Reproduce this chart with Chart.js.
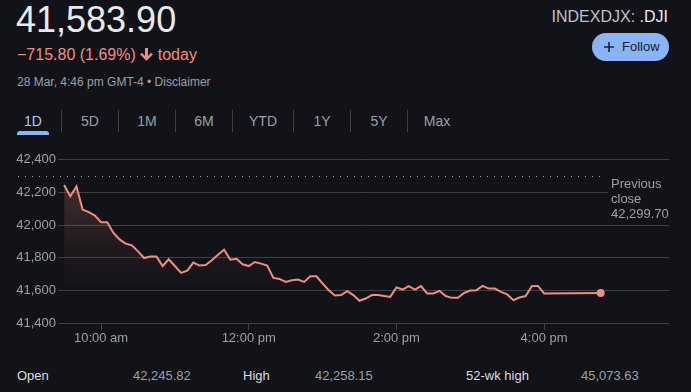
<!DOCTYPE html>
<html>
<head>
<meta charset="utf-8">
<script src="https://cdn.jsdelivr.net/npm/chart.js@4.4.1/dist/chart.umd.min.js"></script>
<style>
    html, body { margin: 0; padding: 0; background: #121318; overflow: hidden; }
    body { width: 691px; height: 392px; position: relative; font-family: "Liberation Sans", Arial, sans-serif; color: #9aa0a6; }
    .abs { position: absolute; white-space: nowrap; }
    #price { left: 16px; top: 2px; font-size: 36px; line-height: 36px; color: #e8eaed; }
    #change { left: 17px; top: 45px; font-size: 16px; line-height: 20px; color: #f28b82; }
    #change svg { vertical-align: -1px; margin: 0 5px 0 4px; }
    #stamp { left: 17px; top: 74px; font-size: 12px; line-height: 16px; color: #9aa0a6; }
    #ticker { right: 23px; top: 7px; font-size: 16px; line-height: 20px; color: #bdc1c6; }
    #ticker b { font-weight: normal; color: #e8eaed; }
    #follow { left: 592px; top: 33px; width: 77px; height: 28px; border-radius: 14px; background: #8ab4f8; color: #202124; font-size: 13px; line-height: 28px; }
    #follow svg { position: absolute; left: 12px; top: 9px; }
    #follow span { position: absolute; left: 30px; top: 0; }
    .tab { top: 112px; width: 44px; text-align: center; font-size: 14px; line-height: 18px; color: #9aa0a6; }
    .tab.on { color: #a8c7fa; }
    .sep { top: 110px; width: 1px; height: 22px; background: #3c4043; }
    #underline { left: 17px; top: 131px; width: 32px; height: 4px; border-radius: 3px 3px 0 0; background: #8ab4f8; }
    .stat { top: 368px; font-size: 13px; line-height: 16px; }
    .stat.k { color: #dadce0; }
    .stat.v { color: #9aa0a6; }
    #wrap { position: absolute; left: 0; top: 150px; width: 691px; height: 200px; }
</style>
</head>
<body>
<div class="abs" id="price">41,583.90</div>
<div class="abs" id="change">−715.80 (1.69%)<svg width="13" height="14" viewBox="0 0 13 14"><path fill="#f28b82" d="M5 1h3v8l3.2-3.2 1.6 1.6L6.5 13.7 0.2 7.4l1.6-1.6L5 9z"/></svg>today</div>
<div class="abs" id="stamp">28 Mar, 4:46 pm GMT-4 • Disclaimer</div>
<div class="abs" id="ticker">INDEXDJX: <b>.DJI</b></div>
<div class="abs" id="follow"><svg width="10" height="10" viewBox="0 0 10 10"><path fill="#202124" d="M4.2 0h1.6v4.2H10v1.6H5.8V10H4.2V5.8H0V4.2h4.2z"/></svg><span>Follow</span></div>
<div id="tabs"></div>
<div class="abs" id="underline"></div>
<div id="wrap"><canvas id="chart"></canvas></div>
<div class="abs stat k" style="left:17px">Open</div>
<div class="abs stat v" style="left:133px">42,245.82</div>
<div class="abs stat k" style="left:243px">High</div>
<div class="abs stat v" style="left:315px">42,258.15</div>
<div class="abs stat k" style="left:466px">52-wk high</div>
<div class="abs stat v" style="left:581px">45,073.63</div>

<script>
// intraday data (5 min steps + the closing print)
const times = [
    '9:30', '9:35', '9:40', '9:45', '9:50', '9:55',
    '10:00', '10:05', '10:10', '10:15', '10:20', '10:25', '10:30', '10:35', '10:40', '10:45', '10:50', '10:55',
    '11:00', '11:05', '11:10', '11:15', '11:20', '11:25', '11:30', '11:35', '11:40', '11:45', '11:50', '11:55',
    '12:00', '12:05', '12:10', '12:15', '12:20', '12:25', '12:30', '12:35', '12:40', '12:45', '12:50', '12:55',
    '13:00', '13:05', '13:10', '13:15', '13:20', '13:25', '13:30', '13:35', '13:40', '13:45', '13:50', '13:55',
    '14:00', '14:05', '14:10', '14:15', '14:20', '14:25', '14:30', '14:35', '14:40', '14:45', '14:50', '14:55',
    '15:00', '15:05', '15:10', '15:15', '15:20', '15:25', '15:30', '15:35', '15:40', '15:45', '15:50', '15:55',
    '16:00', '16:46'
];
const prices = [
    42246, 42176, 42237, 42095, 42079, 42058,
    42018, 42018, 41953, 41912, 41886, 41876, 41839, 41798, 41808, 41808, 41749, 41790,
    41749, 41707, 41721, 41770, 41752, 41755, 41785, 41818, 41849, 41788, 41794, 41760,
    41749, 41774, 41764, 41752, 41676, 41670, 41652, 41662, 41666, 41652, 41686, 41686,
    41642, 41601, 41568, 41571, 41595, 41571, 41536, 41550, 41571, 41571, 41566, 41560,
    41618, 41605, 41626, 41605, 41626, 41581, 41581, 41597, 41565, 41554, 41554, 41584,
    41599, 41601, 41627, 41611, 41611, 41591, 41575, 41540, 41556, 41565, 41626, 41627,
    41581, 41583.90
];
const previousClose = 42299.70;
const yTicks = [41400, 41600, 41800, 42000, 42200, 42400];
const xTickTimes = ['10:00', '12:00', '14:00', '16:00'];
const xTickLabels = ['10:00 am', '12:00 pm', '2:00 pm', '4:00 pm'];

const tabLabels = ['1D', '5D', '1M', '6M', 'YTD', '1Y', '5Y', 'Max'];
const tabCenters = [33, 90, 147, 204, 263, 322, 379, 437];
const tabSeps = [61, 118, 175, 232, 293, 350, 407];

const lineColor = '#f28b82';
const bgColor = '#121318';

function toMinutes(t) {
    let [h, m] = t.split(':').map(Number);
    return h * 60 + m;
}

function drawTabs() {
    let box = document.getElementById('tabs');
    tabLabels.forEach((label, i) => {
        let el = document.createElement('div');
        el.className = 'abs tab' + (i === 0 ? ' on' : '');
        el.style.left = (tabCenters[i] - 22) + 'px';
        el.textContent = label;
        box.appendChild(el);
    });
    tabSeps.forEach(x => {
        let el = document.createElement('div');
        el.className = 'abs sep';
        el.style.left = x + 'px';
        box.appendChild(el);
    });
}

function fillGradient(context) {
    let chart = context.chart;
    let area = chart.chartArea;
    if (!area) return 'transparent';
    let y = chart.scales.y;
    let g = chart.ctx.createLinearGradient(0, y.getPixelForValue(42250), 0, y.getPixelForValue(41600));
    g.addColorStop(0, 'rgba(242,139,130,0.22)');
    g.addColorStop(0.6, 'rgba(242,139,130,0.06)');
    g.addColorStop(1, 'rgba(242,139,130,0)');
    return g;
}

// dotted previous close line + its label on the right
const previousClosePlugin = {
    id: 'previousClose',
    beforeDatasetsDraw(chart) {
        let ctx = chart.ctx;
        let y = Math.round(chart.scales.y.getPixelForValue(previousClose)) + 0.5;
        ctx.save();
        ctx.strokeStyle = '#9aa0a6';
        ctx.lineWidth = 1;
        ctx.setLineDash([1, 6]);
        ctx.beginPath();
        ctx.moveTo(18, y);
        ctx.lineTo(chart.scales.x.getPixelForValue(1006), y);
        ctx.stroke();
        ctx.restore();
    },
    afterDraw(chart) {
        let ctx = chart.ctx;
        let y = chart.scales.y.getPixelForValue(previousClose);
        let x = 611;
        ctx.save();
        ctx.fillStyle = bgColor;
        ctx.fillRect(x - 3, y + 1, 80, 44);
        ctx.fillStyle = '#9aa0a6';
        ctx.font = '13px "Liberation Sans", Arial, sans-serif';
        ctx.textBaseline = 'alphabetic';
        ['Previous', 'close', previousClose.toLocaleString('en-US', {minimumFractionDigits: 2})].forEach((t, i) => {
            ctx.fillText(t, x, y + 12 + i * 15);
        });
        ctx.restore();
    }
};

drawTabs();

let points = times.map((t, i) => ({x: toMinutes(t), y: prices[i]}));

new Chart(document.getElementById('chart'), {
    type: 'line',
    data: {
        datasets: [{
            data: points,
            borderColor: lineColor,
            borderWidth: 2,
            backgroundColor: fillGradient,
            fill: 'start',
            tension: 0,
            pointRadius: (c) => c.dataIndex === points.length - 1 ? 4 : 0,
            pointBackgroundColor: lineColor,
            pointBorderWidth: 0,
            pointHoverRadius: 0
        }]
    },
    options: {
        responsive: true,
        maintainAspectRatio: false,
        animation: false,
        layout: {padding: {top: 9, right: 22, left: 0, bottom: 0}},
        plugins: {legend: {display: false}, tooltip: {enabled: false}},
        events: [],
        scales: {
            x: {
                type: 'linear',
                min: 565,
                max: 1061.5,
                afterBuildTicks: (scale) => {
                    scale.ticks = xTickTimes.map(t => ({value: toMinutes(t)}));
                },
                afterFit: (scale) => { scale.height = 27; },
                border: {display: false},
                grid: {drawOnChartArea: false, drawTicks: true, tickLength: 7, tickColor: '#3c4043'},
                ticks: {
                    autoSkip: false,
                    maxRotation: 0,
                    padding: 1,
                    color: '#9aa0a6',
                    font: {family: '"Liberation Sans", Arial, sans-serif', size: 13},
                    callback: (value) => xTickLabels[xTickTimes.map(toMinutes).indexOf(value)]
                }
            },
            y: {
                min: 41400,
                max: 42400,
                afterBuildTicks: (scale) => {
                    scale.ticks = yTicks.map(v => ({value: v}));
                },
                afterFit: (scale) => { scale.width = 58; },
                border: {display: false},
                grid: {color: '#3c4043', lineWidth: 1, drawTicks: false},
                ticks: {
                    padding: 2,
                    color: '#9aa0a6',
                    font: {family: '"Liberation Sans", Arial, sans-serif', size: 13},
                    callback: (value) => value.toLocaleString('en-US')
                }
            }
        }
    },
    plugins: [previousClosePlugin]
});
</script>
</body>
</html>
